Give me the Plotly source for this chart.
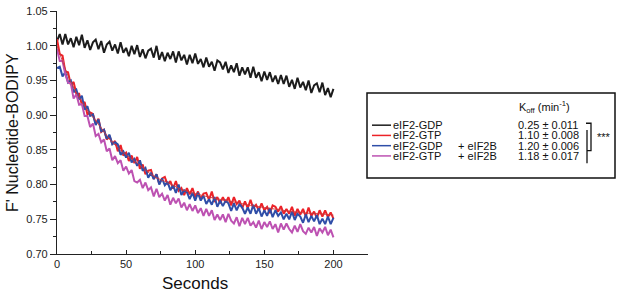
import plotly.graph_objects as go

# ---------------- data ----------------
time_s = list(range(0, 201, 2))

gdp = [1.007, 1.017, 1.002, 1.017, 1.002, 1.011, 0.998, 1.013, 1.001, 1.016,
       0.997, 1.008, 0.994, 1.005, 1.009, 0.995, 1.007, 0.990, 1.002, 1.006,
       0.993, 1.002, 0.989, 1.005, 0.990, 0.997, 0.985, 1.000, 0.988, 1.001,
       0.984, 0.995, 0.982, 0.993, 0.996, 0.983, 1.000, 0.980, 0.991, 0.978,
       0.990, 0.981, 0.992, 0.976, 0.992, 0.979, 0.987, 0.973, 0.987, 0.975,
       0.989, 0.974, 0.981, 0.969, 0.983, 0.970, 0.977, 0.964, 0.979, 0.976,
       0.966, 0.977, 0.961, 0.972, 0.962, 0.975, 0.957, 0.969, 0.959, 0.969,
       0.954, 0.970, 0.954, 0.962, 0.949, 0.963, 0.951, 0.962, 0.948, 0.957,
       0.945, 0.958, 0.945, 0.957, 0.941, 0.951, 0.938, 0.954, 0.940, 0.948,
       0.936, 0.950, 0.932, 0.943, 0.946, 0.933, 0.947, 0.929, 0.939, 0.926,
       0.938]

gtp = [1.010, 0.988, 0.986, 0.963, 0.962, 0.944, 0.948, 0.931, 0.931, 0.915,
       0.919, 0.901, 0.904, 0.902, 0.888, 0.895, 0.876, 0.879, 0.865, 0.870,
       0.859, 0.863, 0.848, 0.857, 0.842, 0.846, 0.834, 0.842, 0.831, 0.840,
       0.823, 0.829, 0.815, 0.820, 0.821, 0.808, 0.815, 0.801, 0.809, 0.811,
       0.800, 0.805, 0.794, 0.805, 0.791, 0.795, 0.785, 0.795, 0.786, 0.795,
       0.782, 0.790, 0.779, 0.787, 0.788, 0.778, 0.790, 0.775, 0.782, 0.773,
       0.782, 0.774, 0.782, 0.770, 0.782, 0.772, 0.777, 0.766, 0.776, 0.766,
       0.778, 0.766, 0.771, 0.763, 0.773, 0.763, 0.768, 0.759, 0.770, 0.768,
       0.761, 0.769, 0.758, 0.765, 0.758, 0.768, 0.755, 0.765, 0.757, 0.765,
       0.754, 0.767, 0.755, 0.761, 0.752, 0.763, 0.754, 0.763, 0.753, 0.760,
       0.751]

gdp_2b = [0.968, 0.970, 0.956, 0.962, 0.947, 0.950, 0.933, 0.937, 0.923, 0.928,
          0.908, 0.913, 0.899, 0.901, 0.886, 0.894, 0.877, 0.879, 0.866, 0.872,
          0.858, 0.861, 0.858, 0.843, 0.848, 0.839, 0.846, 0.832, 0.837, 0.827,
          0.835, 0.820, 0.824, 0.810, 0.817, 0.808, 0.815, 0.800, 0.809, 0.799,
          0.804, 0.792, 0.799, 0.788, 0.800, 0.785, 0.792, 0.789, 0.779, 0.788,
          0.777, 0.788, 0.777, 0.784, 0.772, 0.779, 0.771, 0.782, 0.768, 0.777,
          0.769, 0.777, 0.773, 0.762, 0.773, 0.763, 0.772, 0.767, 0.758, 0.767,
          0.758, 0.771, 0.758, 0.766, 0.754, 0.763, 0.755, 0.766, 0.753, 0.763,
          0.755, 0.760, 0.750, 0.758, 0.750, 0.761, 0.749, 0.758, 0.754, 0.745,
          0.757, 0.746, 0.755, 0.747, 0.756, 0.743, 0.751, 0.743, 0.754, 0.743,
          0.752]

gtp_2b = [0.996, 0.978, 0.978, 0.959, 0.947, 0.946, 0.924, 0.930, 0.915, 0.916,
          0.899, 0.899, 0.883, 0.888, 0.870, 0.873, 0.861, 0.865, 0.848, 0.852,
          0.835, 0.841, 0.831, 0.835, 0.820, 0.826, 0.816, 0.821, 0.805, 0.803,
          0.807, 0.795, 0.803, 0.792, 0.796, 0.783, 0.794, 0.782, 0.787, 0.777,
          0.785, 0.771, 0.781, 0.773, 0.780, 0.767, 0.774, 0.763, 0.772, 0.762,
          0.770, 0.759, 0.766, 0.755, 0.765, 0.755, 0.763, 0.749, 0.757, 0.749,
          0.757, 0.746, 0.758, 0.748, 0.744, 0.753, 0.740, 0.752, 0.743, 0.752,
          0.741, 0.746, 0.738, 0.748, 0.736, 0.746, 0.739, 0.747, 0.736, 0.743,
          0.731, 0.744, 0.735, 0.744, 0.736, 0.731, 0.741, 0.732, 0.743, 0.733,
          0.729, 0.738, 0.731, 0.739, 0.726, 0.737, 0.731, 0.739, 0.727, 0.735,
          0.724]

fit_time = list(range(0, 201, 10))
fit_gtp = [1.000, 0.948, 0.913, 0.887, 0.861, 0.843, 0.828, 0.812, 0.803, 0.793,
           0.787, 0.782, 0.778, 0.774, 0.770, 0.767, 0.764, 0.761, 0.759, 0.758,
           0.756]

names = ["eIF2-GDP", "eIF2-GTP", "eIF2-GDP", "eIF2-GTP"]
additions = ["", "", "+ eIF2B", "+ eIF2B"]
koff = ["0.25 ± 0.011", "1.10 ± 0.008", "1.20 ± 0.006", "1.18 ± 0.017"]
colors = ["#1c1c1c", "#ec2228", "#2f4ea8", "#bd52b2"]
series = [gdp, gtp, gdp_2b, gtp_2b]

x_ticks = [0, 50, 100, 150, 200]
y_ticks = [0.70, 0.75, 0.80, 0.85, 0.90, 0.95, 1.00, 1.05]

# ---------------- layout geometry (pixels) ----------------
W, H = 617, 299
L, R, T, B = 57, 368, 5, 254
PW, PH = R - L, B - T


def px(x):
    return (x - L) / PW


def py(y):
    return (B - y) / PH


FONT = "Liberation Sans, Arial, Helvetica, sans-serif"

fig = go.Figure()
for ys, c in zip(series, colors):
    fig.add_trace(go.Scatter(x=time_s, y=ys, mode="lines",
                             line=dict(color=c, width=2), showlegend=False,
                             hoverinfo="skip"))
fig.add_trace(go.Scatter(x=fit_time, y=fit_gtp, mode="lines",
                         line=dict(color="#c8383c", width=0.9, shape="spline"),
                         showlegend=False, hoverinfo="skip"))

fig.update_layout(
    width=W, height=H,
    margin=dict(l=L, r=W - R, t=T, b=H - B, pad=0),
    paper_bgcolor="white", plot_bgcolor="white",
    font=dict(family=FONT, color="#222", size=11),
    showlegend=False,
)
fig.update_xaxes(range=[0, 225], tickvals=x_ticks, ticks="inside", ticklen=4,
                 tickwidth=1, tickcolor="#222", showline=True, linecolor="#222",
                 linewidth=1.2, showgrid=False, zeroline=False,
                 ticklabeloverflow="allow",
                 tickfont=dict(size=11, color="#222"),
                 minor=dict(dtick=25, tick0=0, ticks="inside", ticklen=3,
                            tickcolor="#222", showgrid=False))
fig.update_yaxes(range=[0.70, 1.0502], tickvals=y_ticks, tickformat=".2f",
                 ticks="outside", ticklen=6, tickwidth=1, tickcolor="#222",
                 showline=True, linecolor="#222", linewidth=1.2, showgrid=False,
                 zeroline=False, ticklabeloverflow="allow",
                 tickfont=dict(size=11, color="#222"),
                 minor=dict(dtick=0.025, tick0=0.7, ticks="outside", ticklen=3,
                            tickcolor="#222", showgrid=False))

ann = []
ann.append(dict(text="Seconds", x=px(195), y=py(284), xref="paper", yref="paper",
                showarrow=False, font=dict(size=17, color="#111"),
                xanchor="center", yanchor="middle"))
ann.append(dict(text="F' Nucleotide-BODIPY", x=px(13), y=py(130), xref="paper",
                yref="paper", showarrow=False, textangle=-90,
                font=dict(size=16, color="#111"), xanchor="center",
                yanchor="middle"))

shapes = []
# legend box
shapes.append(dict(type="rect", xref="paper", yref="paper", x0=px(367), x1=px(615),
                   y0=py(176), y1=py(89), line=dict(color="#111", width=1.5)))
ann.append(dict(text="K<sub>off</sub> (min<sup>-1</sup>)", x=px(517), y=py(103),
                xref="paper", yref="paper", showarrow=False, xanchor="left",
                yanchor="middle", font=dict(size=11, color="#111")))
row_y = [122, 132.5, 143, 153.5]
for i in range(4):
    yy = py(row_y[i])
    shapes.append(dict(type="line", xref="paper", yref="paper", x0=px(372),
                       x1=px(391), y0=yy, y1=yy,
                       line=dict(color=colors[i], width=1.5)))
    ann.append(dict(text=names[i], x=px(391), y=yy, xref="paper", yref="paper",
                    showarrow=False, xanchor="left", yanchor="middle",
                    font=dict(size=11, color="#111")))
    if additions[i]:
        ann.append(dict(text=additions[i], x=px(456), y=yy, xref="paper",
                        yref="paper", showarrow=False, xanchor="left",
                        yanchor="middle", font=dict(size=11, color="#111")))
    ann.append(dict(text=koff[i], x=px(516), y=yy, xref="paper", yref="paper",
                    showarrow=False, xanchor="left", yanchor="middle",
                    font=dict(size=11, color="#111")))

# significance brackets
br = dict(color="#111", width=1.3)
shapes.append(dict(type="path", xref="paper", yref="paper",
                   path=f"M {px(586)} {py(120)} L {px(591)} {py(120)} "
                        f"L {px(591)} {py(148)} L {px(587)} {py(148)}",
                   line=br))
shapes.append(dict(type="line", xref="paper", yref="paper", x0=px(587), x1=px(587),
                   y0=py(127), y1=py(161), line=br))
ann.append(dict(text="***", x=px(604), y=py(134), xref="paper", yref="paper",
                showarrow=False, xanchor="center", yanchor="middle",
                font=dict(size=11, color="#111")))

fig.update_layout(annotations=ann, shapes=shapes)
fig.write_html("out.html", config={"displayModeBar": False},
               post_script="document.body.style.margin='0';"
                           "document.body.style.padding='0';")
